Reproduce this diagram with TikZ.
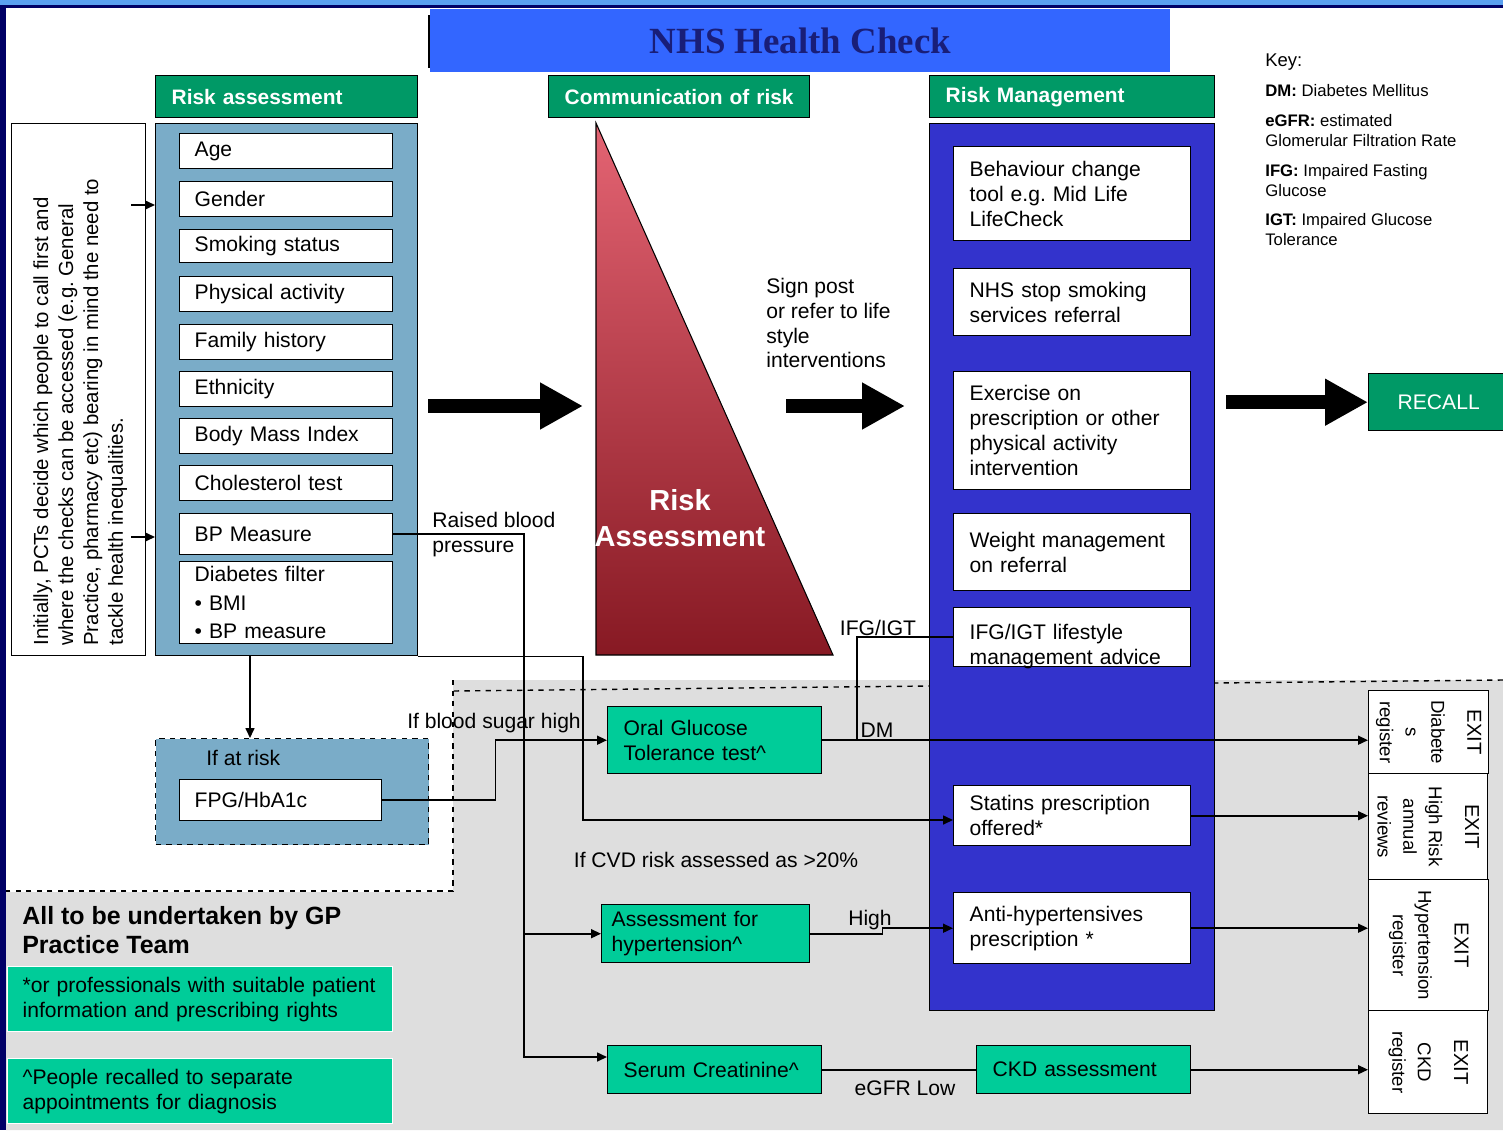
\documentclass[tikz,border=0pt]{standalone}
\usepackage{fontspec}
\setmainfont{Liberation Sans}
\newfontfamily\titlefont{Liberation Serif}
\usetikzlibrary{arrows.meta}

\definecolor{hdgreen}{RGB}{0,153,102}
\definecolor{testgreen}{RGB}{0,204,153}
\definecolor{riskblue}{RGB}{122,172,200}
\definecolor{mgmtblue}{RGB}{51,51,204}
\definecolor{titleblue}{RGB}{51,102,255}
\definecolor{titleink}{RGB}{25,30,120}
\definecolor{navy}{RGB}{0,0,102}
\definecolor{topband}{RGB}{90,160,240}
\definecolor{gpgrey}{RGB}{222,222,222}
\definecolor{tritop}{RGB}{228,100,115}
\definecolor{tribot}{RGB}{135,25,35}

\begin{document}
\begin{tikzpicture}[x=0.2mm,y=-0.2mm,>={Triangle[length=2mm,width=1.8mm]},
  every node/.style={inner sep=0pt,font=\fontsize{12}{14.2}\selectfont},
  sz/.style 2 args={minimum width=#1*0.2mm,minimum height=#2*0.2mm},
  head/.style={draw,line width=0.8pt,fill=hdgreen,text=white,anchor=north west,
    align=left,inner xsep=3.2mm,minimum height=8.4mm,
    font=\fontsize{11.9}{14}\selectfont\bfseries},
  item/.style={draw,line width=0.8pt,fill=white,anchor=north west,align=left,
    text width=36.6mm,inner xsep=3mm,minimum height=7mm},
  mgmt/.style={draw,line width=0.8pt,fill=white,anchor=north west,align=left,
    text width=41mm,inner xsep=3.2mm},
  test/.style={draw,line width=0.8pt,fill=testgreen,anchor=north west,align=left,
    text width=36.4mm,inner xsep=3.2mm,minimum height=9.6mm},
  exitbox/.style={draw,line width=0.8pt,fill=white,anchor=north west},
  exittxt/.style={rotate=-90,align=center,font=\fontsize{10.6}{14.6}\selectfont},
  note/.style={draw=white,line width=0.8pt,fill=testgreen,anchor=north west,
    align=left,text width=71mm,inner xsep=3mm,minimum height=13mm},
  link/.style={line width=0.9pt},
  bigarrow/.style={line width=2.8mm,-{Triangle[length=8.6mm,width=8.8mm]}}]
   \useasboundingbox (0,0) rectangle (1503,1130);

   % 背景
   \fill[gpgrey] (453,680) -- (1503,680) -- (1503,1130) -- (6,1130) -- (6,892) -- (453,892) -- cycle;
   \draw[dashed,line width=0.8pt] (1503,680) -- (453,691);
   \draw[dashed,line width=0.8pt] (453,680) -- (453,891) -- (6,891);
   \fill[topband] (0,0) rectangle (1503,5);
   \fill[navy] (0,5) rectangle (1503,8);
   \fill[navy] (0,8) rectangle (6,1130);

   % タイトル
   \node[fill=titleblue,sz={740}{63},anchor=north west,text=titleink,
     font=\titlefont\fontsize{21}{24}\selectfont\bfseries] (title) at (430,9) {NHS Health Check};
   \draw[line width=0.8pt] (429,15) -- (429,68);

   \node[head,text width=46mm] (rahead) at (155,75) {Risk assessment};
   \node[head,text width=45.8mm] (comhead) at (548,75) {Communication of risk};
   \node[head,text width=50.6mm] (rmhead) at (929,75) {Risk Management};

   % Risk assessment
   \node[draw,line width=0.8pt,fill=white,sz={134}{532},anchor=north west] (pcts) at (11,123) {};
   \node[rotate=90,anchor=north west,align=left,font=\fontsize{11.6}{14.2}\selectfont] (pctstext) at (33,646)
     {Initially, PCTs decide which people to call first and\\where the checks can be accessed (e.g.\ General\\Practice, pharmacy etc) bearing in mind the need to\\tackle health inequalities.};
   \node[draw,line width=0.8pt,fill=riskblue,sz={262}{532},anchor=north west] (riskpanel) at (155,123) {};
   \node[item] (age) at (179,133) {Age};
   \node[item] (gender) at (179,181) {Gender};
   \node[item,minimum height=6.6mm] (smoking) at (179,229) {Smoking status};
   \node[item] (activity) at (179,276) {Physical activity};
   \node[item] (family) at (179,324) {Family history};
   \node[item] (ethnic) at (179,371) {Ethnicity};
   \node[item] (bmi) at (179,418) {Body Mass Index};
   \node[item] (chol) at (179,465) {Cholesterol test};
   \node[item,minimum height=8.2mm] (bp) at (179,513) {BP Measure};
   \node[item,minimum height=16.4mm] (diabfilter) at (179,561)
     {Diabetes filter\\[2pt]\textbullet\ BMI\\[2pt]\textbullet\ BP measure};
   \coordinate (callA) at (131,205);
   \coordinate (callB) at (131,537);
   \draw[link,->] (callA) -- (callA -| riskpanel.west);
   \draw[link,->] (callB) -- (callB -| riskpanel.west);

   % Communication of risk
   \shade[top color=tritop,bottom color=tribot,draw=black,line width=0.6pt]
     (596,123) -- (596,655) -- (833,655) -- cycle;
   \node[text=white,align=center,font=\fontsize{16.5}{20.4}\selectfont\bfseries] (risktri) at (680,518) {Risk\\Assessment};
   \node[anchor=west,align=left] (signpost) at (766,323) {Sign post\\or refer to life\\style\\interventions};

   % Risk Management
   \node[draw,line width=0.8pt,fill=mgmtblue,sz={285}{887},anchor=north west] (mgmtpanel) at (929,123) {};
   \node[mgmt,minimum height=18.8mm] (behaviour) at (953,146) {Behaviour change\\tool e.g.\ Mid Life\\LifeCheck};
   \node[mgmt,minimum height=13.4mm] (stopsmoke) at (953,268) {NHS stop smoking\\services referral};
   \node[mgmt,minimum height=23.6mm] (exercise) at (953,371) {Exercise on\\prescription or other\\physical activity\\intervention};
   \node[mgmt,minimum height=15.4mm] (weight) at (953,513) {Weight management\\on referral};
   \node[mgmt,minimum height=11.8mm,text depth=2.2mm] (ifg) at (953,607) {IFG/IGT lifestyle\\management advice};
   \node[mgmt,minimum height=12mm] (statins) at (953,785) {Statins prescription\\offered*};
   \node[mgmt,minimum height=14.2mm] (antihyp) at (953,892) {Anti-hypertensives\\prescription *};

   \node[draw,line width=0.8pt,fill=hdgreen,text=white,sz={140}{57},anchor=north west] (recall) at (1368,373) {RECALL};

   % 大きい矢印
   \draw[bigarrow] (428,406) -- (583,406);
   \draw[bigarrow] (786,406) -- (905,406);
   \draw[bigarrow] (recall.west -| 1226,0) -- (recall.west);

   % Key
   \node[anchor=west,align=left,font=\fontsize{9.5}{11.3}\selectfont] (key) at (1265,150)
     {{\fontsize{10.5}{11.3}\selectfont Key:}\\[5.7pt]\textbf{DM:} Diabetes Mellitus\\[5.7pt]\textbf{eGFR:} estimated\\Glomerular Filtration Rate\\[5.7pt]\textbf{IFG:} Impaired Fasting\\Glucose\\[5.7pt]\textbf{IGT:} Impaired Glucose\\Tolerance};

   % 検査
   \node[draw,dashed,line width=0.8pt,fill=riskblue,sz={273}{106},anchor=north west] (atrisk) at (155,738) {};
   \node[anchor=west] (atrisklbl) at (206,758) {If at risk};
   \node[item,text width=34.4mm,minimum height=8.2mm] (fpg) at (179,779) {FPG/HbA1c};
   \coordinate (filterdown) at (250,655);
   \draw[link,->] (filterdown) -- (filterdown |- atrisk.north);

   \node[test,minimum height=13.4mm] (ogtt) at (607,706) {Oral Glucose\\Tolerance test\textasciicircum};
   \node[test,text width=37.6mm,inner xsep=2mm,minimum height=11.6mm] (hyptest) at (601,904) {Assessment for\\hypertension\textasciicircum};
   \node[test] (serum) at (607,1045) {Serum Creatinine\textasciicircum};
   \node[test] (ckd) at (976,1045) {CKD assessment};

   % EXIT
   \node[exitbox,sz={120}{83}] (exitdm) at (1368,690) {};
   \node[exitbox,sz={119}{106}] (exitcvd) at (1368,773) {};
   \node[exitbox,sz={120}{131}] (exithyp) at (1368,879) {};
   \node[exitbox,sz={119}{103}] (exitckd) at (1368,1010) {};
   \node[exittxt] (exitdmtxt) at (exitdm) {{\fontsize{11.5}{14}\selectfont EXIT}\\[6pt]Diabete\\s\\register};
   \node[exittxt] (exitcvdtxt) at (exitcvd) {{\fontsize{11.5}{14}\selectfont EXIT}\\[6pt]High Risk\\annual\\reviews};
   \node[exittxt] (exithyptxt) at (exithyp) {{\fontsize{11.5}{14}\selectfont EXIT}\\[6pt]Hypertension\\register};
   \node[exittxt] (exitckdtxt) at (exitckd) {{\fontsize{11.5}{14}\selectfont EXIT}\\[6pt]CKD\\register};

   % 接続線
   \draw[link,->] (fpg.east) -- ++(113,0) |- (ogtt.west);
   \node (sugarlbl) at (494,723) {If blood sugar high};
   \draw[link,->] (ogtt.east) -- (ogtt.east -| exitdm.west);
   \coordinate (dmsplit) at (857,739.5);
   \draw[link] (dmsplit) |- (ifg.west);
   \node (dmlbl) at (877,730) {DM};
   \node (ifglbl) at (878,628) {IFG/IGT};

   \coordinate (bpdrop) at (524,1057);
   \draw[link,->] (bp.east) -| (hyptest.west -| bpdrop) -- (hyptest.west);
   \draw[link,->] (hyptest.west -| bpdrop) -- (bpdrop) -- (bpdrop -| serum.west);
   \node[anchor=west,align=left] (bplbl) at (432,535) {Raised blood\\pressure};

   \coordinate (cvdturn) at (583,820);
   \draw[link,->] (riskpanel.south east) -| (cvdturn) -- (cvdturn -| statins.west);
   \node (cvdlbl) at (716,860) {If CVD risk assessed as >20\%};

   \draw[link,->] (hyptest.east) -- ++(72,0) |- (antihyp.west);
   \node (highlbl) at (870,920) {High};

   \draw[link,->] (statins.east) -- (statins.east -| exitcvd.west);
   \draw[link,->] (antihyp.east) -- (antihyp.east -| exithyp.west);
   \draw[link] (serum.east) -- (ckd.west);
   \node (egfrlbl) at (905,1088) {eGFR Low};
   \draw[link,->] (ckd.east) -- (ckd.east -| exitckd.west);

   % GP
   \node[anchor=west,align=left,font=\fontsize{14.2}{16.4}\selectfont\bfseries] (gptxt) at (22,930) {All to be undertaken by GP\\Practice Team};
   \node[note] (note1) at (7,966) {*or professionals with suitable patient\\information and prescribing rights};
   \node[note] (note2) at (7,1058) {\textasciicircum People recalled to separate\\appointments for diagnosis};
\end{tikzpicture}
\end{document}
